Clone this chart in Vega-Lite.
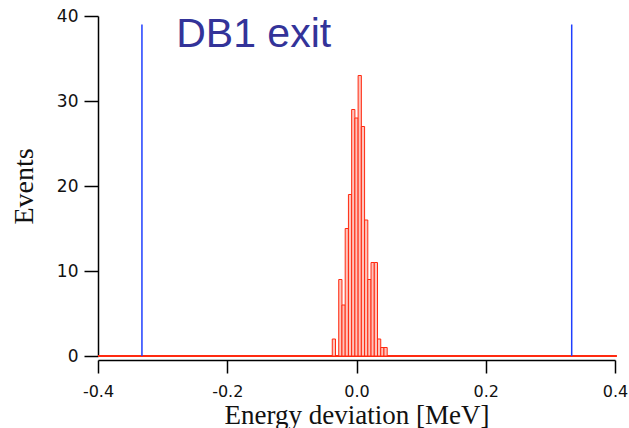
{
  "$schema": "https://vega.github.io/schema/vega-lite/v6.json",
  "width": 517,
  "height": 340,
  "autosize": {"type": "none"},
  "padding": {"left": 98, "top": 16, "right": 14, "bottom": 72},
  "background": "white",
  "config": {"view": {"stroke": null}},
  "datasets": {
    "hist": [
      {"lo": -0.0375, "hi": -0.0325, "count": 2},
      {"lo": -0.0275, "hi": -0.0225, "count": 9},
      {"lo": -0.0225, "hi": -0.0175, "count": 6},
      {"lo": -0.0175, "hi": -0.0125, "count": 15},
      {"lo": -0.0125, "hi": -0.0075, "count": 19},
      {"lo": -0.0075, "hi": -0.0025, "count": 29},
      {"lo": -0.0025, "hi": 0.0025, "count": 28},
      {"lo": 0.0025, "hi": 0.0075, "count": 33},
      {"lo": 0.0075, "hi": 0.0125, "count": 27},
      {"lo": 0.0125, "hi": 0.0175, "count": 16},
      {"lo": 0.0175, "hi": 0.0225, "count": 9},
      {"lo": 0.0225, "hi": 0.0275, "count": 11},
      {"lo": 0.0275, "hi": 0.0325, "count": 11},
      {"lo": 0.0325, "hi": 0.0375, "count": 2},
      {"lo": 0.0375, "hi": 0.0425, "count": 1},
      {"lo": 0.0425, "hi": 0.0475, "count": 1}
    ],
    "baseline": [{"lo": -0.4, "hi": 0.403, "count": 0}],
    "limits": [{"x": -0.332, "y": 0, "y2": 39}, {"x": 0.333, "y": 0, "y2": 39}],
    "label": [{"x": -0.279, "y": 36.3, "text": "DB1 exit"}]
  },
  "layer": [
    {
      "data": {"name": "baseline"},
      "mark": {"type": "rule", "color": "#ff2a10", "strokeWidth": 2},
      "encoding": {
        "x": {"field": "lo", "type": "quantitative", "scale": {"domain": [-0.4, 0.4], "nice": false, "clamp": false},
          "axis": {
            "values": [-0.4, -0.2, 0, 0.2, 0.4],
            "labelExpr": "replace(format(datum.value, '.1f'), '\u2212', '-')",
            "title": "Energy deviation [MeV]",
            "offset": 4,
            "grid": false,
            "domainColor": "#000000",
            "domainWidth": 1.5,
            "tickColor": "#000000",
            "tickWidth": 1.5,
            "tickSize": 13,
            "labelFont": "DejaVu Sans",
            "labelFontSize": 16,
            "labelColor": "#111111",
            "labelPadding": 10,
            "labelFlush": false,
            "labelOverlap": false,
            "titleFont": "Liberation Serif",
            "titleFontSize": 27,
            "titleFontWeight": "normal",
            "titleColor": "#111111",
            "titlePadding": 3
          }},
        "x2": {"field": "hi"},
        "y": {"field": "count", "type": "quantitative", "scale": {"domain": [0, 40], "nice": false},
          "axis": {
            "values": [0, 10, 20, 30, 40],
            "title": "Events",
            "grid": false,
            "domainColor": "#000000",
            "domainWidth": 1.5,
            "tickColor": "#000000",
            "tickWidth": 1.5,
            "tickSize": 14,
            "labelFont": "DejaVu Sans",
            "labelFontSize": 17,
            "labelColor": "#111111",
            "labelPadding": 6,
            "labelFlush": false,
            "titleFont": "Liberation Serif",
            "titleFontSize": 28,
            "titleFontWeight": "normal",
            "titleColor": "#111111",
            "titlePadding": 18
          }}
      }
    },
    {
      "data": {"name": "hist"},
      "mark": {"type": "bar", "fill": "#ffc4bc", "stroke": "#ff2a10", "strokeWidth": 1},
      "encoding": {
        "x": {"field": "lo", "type": "quantitative"},
        "x2": {"field": "hi"},
        "y": {"field": "count", "type": "quantitative"},
        "y2": {"datum": 0}
      }
    },
    {
      "data": {"name": "limits"},
      "mark": {"type": "rule", "color": "#1f3fff", "strokeWidth": 1.5},
      "encoding": {
        "x": {"field": "x", "type": "quantitative"},
        "y": {"field": "y", "type": "quantitative"},
        "y2": {"field": "y2"}
      }
    },
    {
      "data": {"name": "label"},
      "mark": {"type": "text", "align": "left", "baseline": "alphabetic", "font": "Liberation Sans", "fontSize": 41, "color": "#333399"},
      "encoding": {
        "x": {"field": "x", "type": "quantitative"},
        "y": {"field": "y", "type": "quantitative"},
        "text": {"field": "text"}
      }
    }
  ]
}
